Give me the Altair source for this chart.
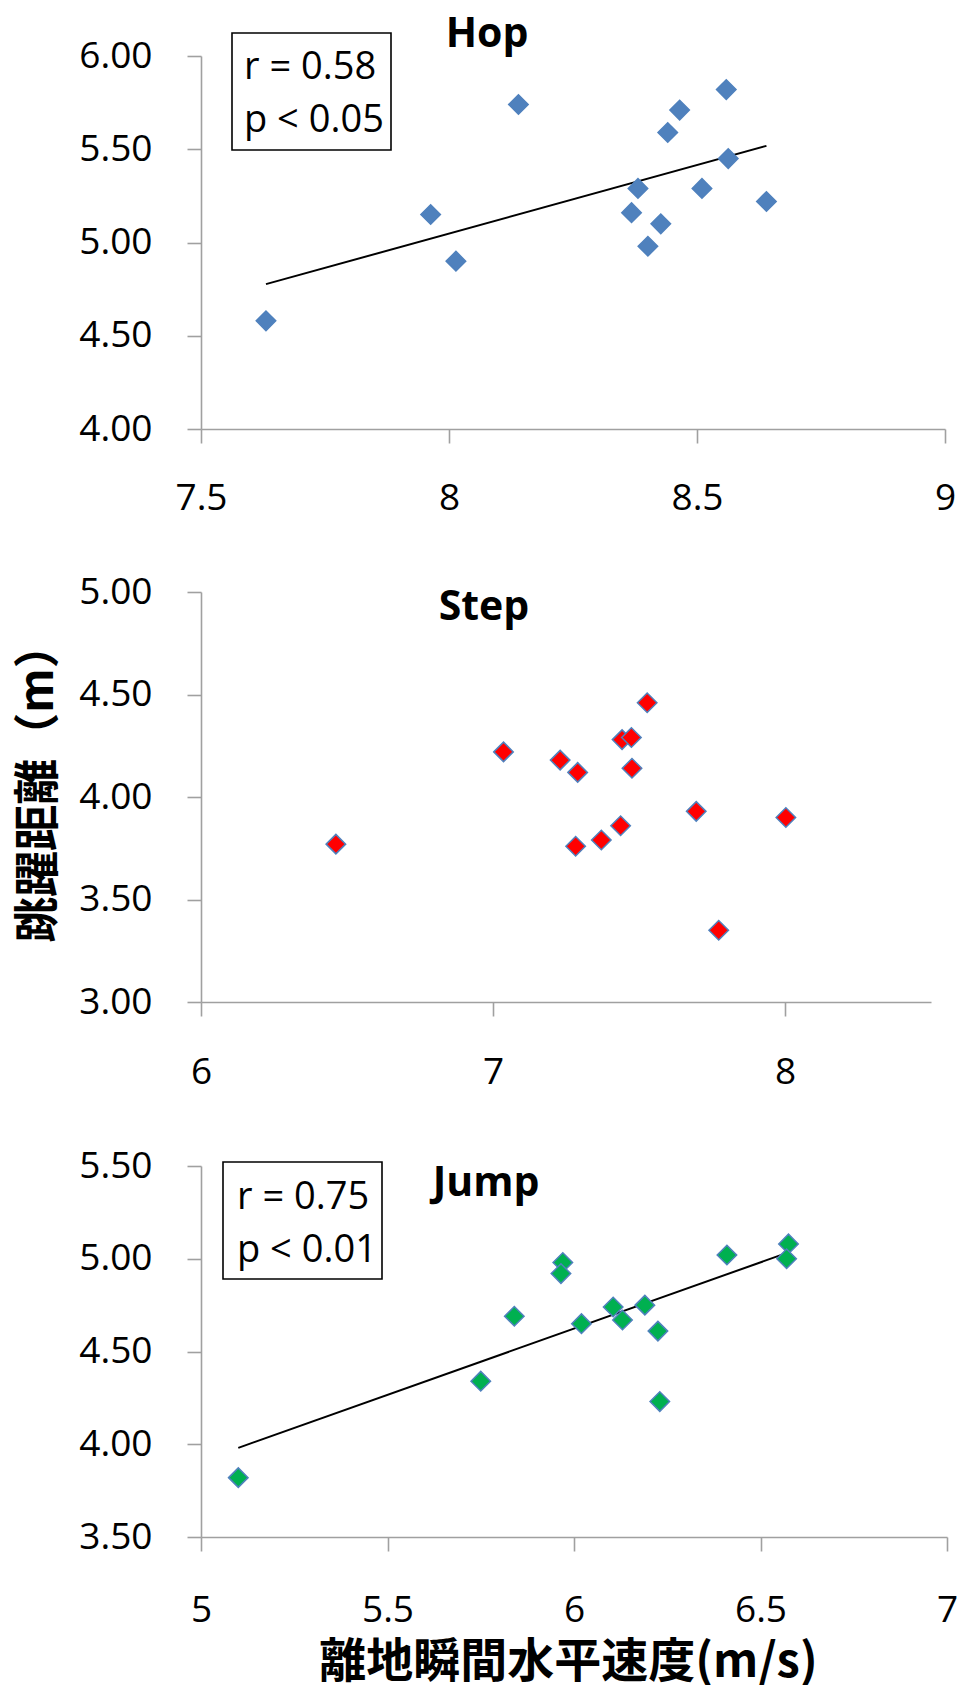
import altair as alt
import pandas as pd

# ---- data ----
hop_speed = [7.631, 7.963, 8.014, 8.140, 8.368, 8.381, 8.401, 8.427, 8.441, 8.465, 8.510, 8.559, 8.563, 8.640]
hop_dist = [4.58, 5.15, 4.90, 5.74, 5.16, 5.29, 4.98, 5.10, 5.59, 5.71, 5.29, 5.82, 5.45, 5.22]

step_speed = [6.462, 7.036, 7.230, 7.290, 7.283, 7.371, 7.437, 7.442, 7.474, 7.476, 7.528, 7.696, 7.773, 8.003]
step_dist = [3.77, 4.22, 4.18, 4.12, 3.76, 3.79, 3.86, 4.28, 4.29, 4.14, 4.46, 3.93, 3.35, 3.90]

jump_speed = [5.10, 5.75, 5.84, 5.97, 5.965, 6.02, 6.105, 6.13, 6.19, 6.225, 6.23, 6.41, 6.575, 6.57]
jump_dist = [3.82, 4.34, 4.69, 4.98, 4.92, 4.65, 4.74, 4.67, 4.75, 4.61, 4.23, 5.02, 5.08, 5.00]

titles = ["Hop", "Step", "Jump"]
hop_stats = ["r = 0.58", "p < 0.05"]
jump_stats = ["r = 0.75", "p < 0.01"]

hop_xticks = [7.5, 8, 8.5, 9]
step_xticks = [6, 7, 8]
jump_xticks = [5, 5.5, 6, 6.5, 7]
hop_yticks = [4.0, 4.5, 5.0, 5.5, 6.0]
step_yticks = [3.0, 3.5, 4.0, 4.5, 5.0]
jump_yticks = [3.5, 4.0, 4.5, 5.0, 5.5]

y_title = "跳躍距離（m）"
x_title = "離地瞬間水平速度(m/s)"

LABEL_FONT = "Open Sans"
CJK_FONT = "Noto Sans CJK JP"
AXIS_COLOR = "#a0a0a0"
BLUE = "#4F81BD"


def panel(speed, dist, xdom, xticks, ydom, yticks, w, h, fill, stroke, title,
          title_pos, stats=None, box=None, xlabpad=38, ytitle=None, xtitle=None):
    df = pd.DataFrame({"speed": speed, "dist": dist})
    xaxis_kw = dict(values=xticks, format="~g", grid=False, tickSize=14,
                    labelPadding=xlabpad, labelFont=LABEL_FONT, labelFontSize=37,
                    labelColor="black", domainColor=AXIS_COLOR, tickColor=AXIS_COLOR,
                    domainWidth=1.6, tickWidth=1.6, labelFlush=False, labelOverlap=False)
    if xtitle:
        xaxis_kw.update(title=xtitle, titleFont=CJK_FONT, titleFontSize=47,
                        titleFontWeight="bold", titleColor="black", titlePadding=11,
                        titleX=367, titleAlign="center")
    else:
        xaxis_kw.update(title=None)
    yaxis_kw = dict(values=yticks, format=".2f", grid=False, tickSize=14,
                    labelPadding=35, labelFont=LABEL_FONT, labelFontSize=37,
                    labelColor="black", domainColor=AXIS_COLOR, tickColor=AXIS_COLOR,
                    domainWidth=1.6, tickWidth=1.6, labelFlush=False, labelOverlap=False)
    if ytitle:
        yaxis_kw.update(title=ytitle, titleFont=CJK_FONT, titleFontSize=46,
                        titleFontWeight="bold", titleColor="black", titlePadding=16,
                        titleY=190, titleAlign="center")
    else:
        yaxis_kw.update(title=None)

    x_enc = alt.X("speed:Q", scale=alt.Scale(domain=xdom, nice=False, zero=False),
                  axis=alt.Axis(**xaxis_kw))
    y_enc = alt.Y("dist:Q", scale=alt.Scale(domain=ydom, nice=False, zero=False),
                  axis=alt.Axis(**yaxis_kw))

    base = alt.Chart(df)
    layers = []
    if stats is not None:
        trend = base.transform_regression("speed", "dist").mark_line(
            color="black", strokeWidth=2).encode(x=x_enc, y=y_enc)
        layers.append(trend)
    pts = base.mark_point(shape="diamond", filled=True, size=380, fill=fill,
                          stroke=stroke, strokeWidth=1.5, opacity=1).encode(x=x_enc, y=y_enc)
    layers.append(pts)

    tdf = pd.DataFrame({"t": [title]})
    ttl = alt.Chart(tdf).mark_text(font=LABEL_FONT, fontSize=41, fontWeight="bold",
                                   color="black", align="center", baseline="alphabetic").encode(
        text="t:N", x=alt.value(title_pos[0]), y=alt.value(title_pos[1]))
    layers.append(ttl)

    if stats is not None:
        bx0, by0, bx1, by1, tx, ty1, ty2 = box
        rect = alt.Chart(tdf).mark_rect(fill="white", stroke="black", strokeWidth=1.6).encode(
            x=alt.value(bx0), x2=alt.value(bx1), y=alt.value(by0), y2=alt.value(by1))
        layers.append(rect)
        for s, ty in zip(stats, [ty1, ty2]):
            sdf = pd.DataFrame({"s": [s]})
            layers.append(alt.Chart(sdf).mark_text(font=LABEL_FONT, fontSize=38, color="black",
                                                   align="left", baseline="alphabetic").encode(
                text="s:N", x=alt.value(tx), y=alt.value(ty)))

    return alt.layer(*layers).properties(width=w, height=h)


p1 = panel(hop_speed, hop_dist, [7.5, 9], hop_xticks, [4, 6], hop_yticks, 744, 373,
           BLUE, BLUE, titles[0], (286, -9), stats=hop_stats,
           box=(31, -23, 190, 94, 43, 23, 76), xlabpad=37)
p2 = panel(step_speed, step_dist, [6, 8.5], step_xticks, [3, 5], step_yticks, 730, 410,
           "#FF0000", BLUE, titles[1], (283, 28), ytitle=y_title, xlabpad=38)
p3 = panel(jump_speed, jump_dist, [5, 7], jump_xticks, [3.5, 5.5], jump_yticks, 746, 371,
           "#00B050", BLUE, titles[2], (285, 30), stats=jump_stats,
           box=(22, -4, 181, 113, 36, 43, 96), xlabpad=41, xtitle=x_title)

chart = alt.vconcat(p1, p2, p3, spacing=57).properties(
    padding={"left": 15, "top": 14, "right": 0, "bottom": 0},
    background="white",
).configure_view(stroke=None)

chart.save("out.html", embed_options={"renderer": "svg", "actions": False})
